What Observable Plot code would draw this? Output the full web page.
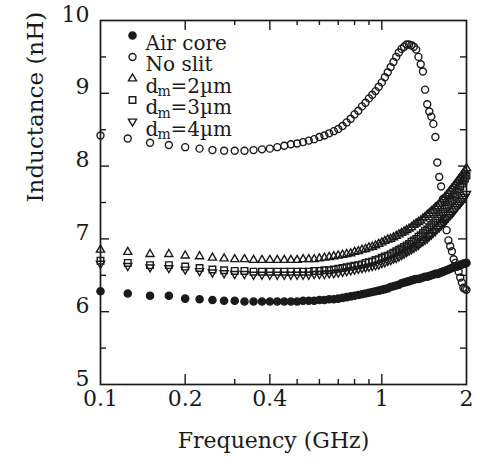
<!DOCTYPE html>
<html><head><meta charset="utf-8">
<script src="https://cdn.jsdelivr.net/npm/d3@7"></script>
<script src="https://cdn.jsdelivr.net/npm/@observablehq/plot@0.6"></script>
<style>body{margin:0;background:#fff}#chart{width:480px;height:465px}</style>
</head><body><div id="chart"></div>
<script>
// Frequency (GHz)
const frequency = [
  0.1,0.125,0.15,0.175,0.2,0.225,0.25,0.275,0.3,0.325,
  0.35,0.375,0.4,0.425,0.45,0.475,0.5,0.525,0.55,0.575,
  0.6,0.625,0.65,0.675,0.7,0.725,0.75,0.775,0.8,0.825,
  0.85,0.875,0.9,0.925,0.95,0.975,1.0,1.025,1.05,1.075,
  1.1,1.125,1.15,1.175,1.2,1.225,1.25,1.275,1.3,1.325,
  1.35,1.375,1.4,1.425,1.45,1.475,1.5,1.525,1.55,1.575,
  1.6,1.625,1.65,1.675,1.7,1.725,1.75,1.775,1.8,1.825,
  1.85,1.875,1.9,1.925,1.95,1.975,2.0
];
// Inductance (nH)
const airCore = [
  6.28,6.25,6.22,6.22,6.18,6.17,6.16,6.15,6.15,6.14,
  6.14,6.14,6.14,6.14,6.14,6.14,6.14,6.15,6.15,6.15,
  6.16,6.16,6.17,6.17,6.18,6.19,6.20,6.21,6.22,6.23,
  6.24,6.25,6.26,6.27,6.28,6.29,6.30,6.31,6.32,6.34,
  6.35,6.36,6.37,6.39,6.40,6.41,6.42,6.43,6.44,6.45,
  6.45,6.46,6.47,6.48,6.48,6.49,6.50,6.51,6.52,6.52,
  6.53,6.54,6.55,6.56,6.57,6.58,6.59,6.60,6.61,6.62,
  6.62,6.63,6.64,6.65,6.66,6.66,6.67
];
const noSlit = [
  8.42,8.38,8.32,8.29,8.26,8.24,8.22,8.21,8.21,8.21,
  8.22,8.23,8.24,8.26,8.28,8.30,8.31,8.33,8.35,8.37,
  8.40,8.42,8.45,8.48,8.51,8.55,8.60,8.65,8.71,8.76,
  8.82,8.87,8.93,8.98,9.03,9.09,9.15,9.22,9.29,9.36,
  9.43,9.50,9.56,9.61,9.64,9.67,9.67,9.66,9.64,9.60,
  9.50,9.40,9.30,9.05,8.85,8.75,8.68,8.58,8.40,8.05,
  7.85,7.72,7.55,7.28,7.12,6.98,6.90,6.83,6.72,6.67,
  6.62,6.55,6.47,6.40,6.33,6.31,6.30
];
const dm2 = [
  6.85,6.82,6.79,6.79,6.77,6.76,6.74,6.73,6.72,6.72,
  6.71,6.71,6.71,6.71,6.71,6.71,6.71,6.72,6.72,6.72,
  6.73,6.74,6.75,6.76,6.77,6.78,6.79,6.80,6.82,6.83,
  6.85,6.86,6.88,6.89,6.91,6.93,6.95,6.97,6.99,7.00,
  7.02,7.04,7.06,7.08,7.10,7.12,7.14,7.16,7.19,7.21,
  7.23,7.25,7.28,7.30,7.33,7.35,7.38,7.40,7.43,7.45,
  7.48,7.51,7.54,7.57,7.60,7.63,7.66,7.69,7.72,7.75,
  7.78,7.81,7.84,7.87,7.90,7.93,7.97
];
const dm3 = [
  6.70,6.67,6.64,6.64,6.62,6.60,6.58,6.57,6.56,6.56,
  6.55,6.55,6.55,6.55,6.55,6.55,6.55,6.55,6.55,6.56,
  6.56,6.57,6.57,6.58,6.59,6.60,6.61,6.62,6.63,6.64,
  6.65,6.67,6.68,6.69,6.71,6.72,6.74,6.76,6.77,6.79,
  6.81,6.83,6.85,6.87,6.89,6.91,6.93,6.96,6.98,7.00,
  7.03,7.05,7.08,7.11,7.13,7.16,7.19,7.22,7.25,7.28,
  7.31,7.34,7.37,7.41,7.44,7.47,7.51,7.54,7.58,7.61,
  7.65,7.68,7.72,7.76,7.80,7.83,7.87
];
const dm4 = [
  6.66,6.63,6.61,6.60,6.58,6.56,6.54,6.53,6.52,6.52,
  6.51,6.51,6.51,6.51,6.51,6.51,6.51,6.51,6.51,6.52,
  6.52,6.52,6.53,6.53,6.54,6.55,6.56,6.57,6.58,6.59,
  6.60,6.61,6.62,6.63,6.64,6.65,6.67,6.68,6.70,6.71,
  6.73,6.74,6.76,6.78,6.80,6.82,6.84,6.86,6.88,6.90,
  6.92,6.95,6.97,6.99,7.01,7.04,7.06,7.09,7.11,7.14,
  7.16,7.19,7.22,7.24,7.27,7.30,7.33,7.35,7.38,7.41,
  7.44,7.47,7.49,7.52,7.55,7.58,7.62
];
const legendMain = ["Air core", "No slit", "d", "d", "d"];
const legendSub = ["", "", "m", "m", "m"];
const legendTail = ["", "", "=2µm", "=3µm", "=4µm"];
const xTicks = [0.1, 0.2, 0.4, 1, 2];
const xTickLabels = ["0.1", "0.2", "0.4", "1", "2"];
const xMajorMarks = [0.2, 0.4, 1];
const xMinorMarks = [0.3, 0.5, 0.6, 0.7, 0.8, 0.9];
const yTicks = [5, 6, 7, 8, 9, 10];
const yTickLabels = ["5", "6", "7", "8", "9", "10"];
const yMajorMarks = [6, 7, 8, 9];
const yMinorMarks = [5.5, 6.5, 7.5, 8.5, 9.5];
const xLabel = "Frequency (GHz)";
const yLabel = "Inductance (nH)";

const ink = "#1a1a1a";
const W = 480, H = 465, mL = 100, mR = 14, mT = 20, mB = 81;
const fw = W - mL - mR, fh = H - mT - mB;
const font = "DejaVu Serif";

const triangleDown = {draw(ctx, size) {
  const s3 = Math.sqrt(3);
  const y = -Math.sqrt(size / (s3 * 3));
  ctx.moveTo(0, -y * 2);
  ctx.lineTo(-s3 * y, y);
  ctx.lineTo(s3 * y, y);
  ctx.closePath();
}};

const series = [
  {values: airCore, symbol: "circle", r: 3.6, filled: true},
  {values: noSlit, symbol: "circle", r: 3.5, filled: false},
  {values: dm2, symbol: "triangle", r: 3, filled: false},
  {values: dm3, symbol: "square", r: 3.7, filled: false},
  {values: dm4, symbol: triangleDown, r: 3, filled: false}
];
const rows = (vals) => frequency.map((f, i) => ({f, L: vals[i]}));
const dotOpts = (s) => ({symbol: s.symbol, r: s.r, fill: s.filled ? ink : "none", stroke: ink, strokeWidth: 1.4});

const drawOrder = [0, 4, 3, 2, 1];
const marks = [];
// ticks (inward)
marks.push(Plot.ruleX(xMajorMarks, {x: d => d, insetTop: fh - 10, stroke: ink, strokeWidth: 1.4}));
marks.push(Plot.ruleX(xMinorMarks, {x: d => d, insetTop: fh - 5, stroke: ink, strokeWidth: 1.4}));
marks.push(Plot.ruleX(xMajorMarks, {x: d => d, insetBottom: fh - 10, stroke: ink, strokeWidth: 1.4}));
marks.push(Plot.ruleX(xMinorMarks, {x: d => d, insetBottom: fh - 5, stroke: ink, strokeWidth: 1.4}));
marks.push(Plot.ruleY(yMajorMarks, {y: d => d, insetRight: fw - 9, stroke: ink, strokeWidth: 1.4}));
marks.push(Plot.ruleY(yMinorMarks, {y: d => d, insetRight: fw - 6, stroke: ink, strokeWidth: 1.4}));
marks.push(Plot.ruleY(yMajorMarks, {y: d => d, insetLeft: fw - 8, stroke: ink, strokeWidth: 1.4}));
marks.push(Plot.ruleY(yMinorMarks, {y: d => d, insetLeft: fw - 6, stroke: ink, strokeWidth: 1.4}));
marks.push(Plot.frame({stroke: ink, strokeWidth: 1.7}));
// tick labels
marks.push(Plot.text(yTicks, {y: d => d, text: (d, i) => yTickLabels[i], frameAnchor: "left", textAnchor: "end", dx: -11, dy: -6, fontSize: 22, fill: ink}));
marks.push(Plot.text(xTicks, {x: d => d, text: (d, i) => xTickLabels[i], frameAnchor: "bottom", dy: 21, fontSize: 22, fill: ink}));
marks.push(Plot.text([xLabel], {text: d => d, frameAnchor: "bottom", dx: -10, dy: 63, fontSize: 22, fill: ink}));
marks.push(Plot.text([yLabel], {text: d => d, frameAnchor: "left", dx: -65, rotate: -90, fontSize: 23, fill: ink}));
// data
for (const k of drawOrder) {
  const s = series[k];
  marks.push(Plot.dot(rows(s.values), {x: "f", y: "L", ...dotOpts(s)}));
}
// legend
series.forEach((s, i) => {
  const dy = 15 + i * 21.5;
  marks.push(Plot.dot([0], {frameAnchor: "top-left", dx: 32, dy, ...dotOpts(s)}));
  marks.push(Plot.text([legendMain[i]], {text: d => d, frameAnchor: "top-left", dx: 45, dy, textAnchor: "start", fontSize: 20, fill: ink}));
  if (legendSub[i]) {
    marks.push(Plot.text([legendSub[i]], {text: d => d, frameAnchor: "top-left", dx: 57, dy: dy + 8, textAnchor: "start", fontSize: 14, fill: ink}));
    marks.push(Plot.text([legendTail[i]], {text: d => d, frameAnchor: "top-left", dx: 70, dy, textAnchor: "start", fontSize: 20, fill: ink}));
  }
});

const chart = Plot.plot({
  width: W, height: H,
  marginLeft: mL, marginRight: mR, marginTop: mT, marginBottom: mB,
  style: {fontFamily: font, background: "#fff", color: ink},
  x: {type: "log", domain: [0.1, 2], axis: null},
  y: {domain: [5, 10], axis: null},
  marks
});
document.getElementById("chart").appendChild(chart);
</script>
</body></html>
